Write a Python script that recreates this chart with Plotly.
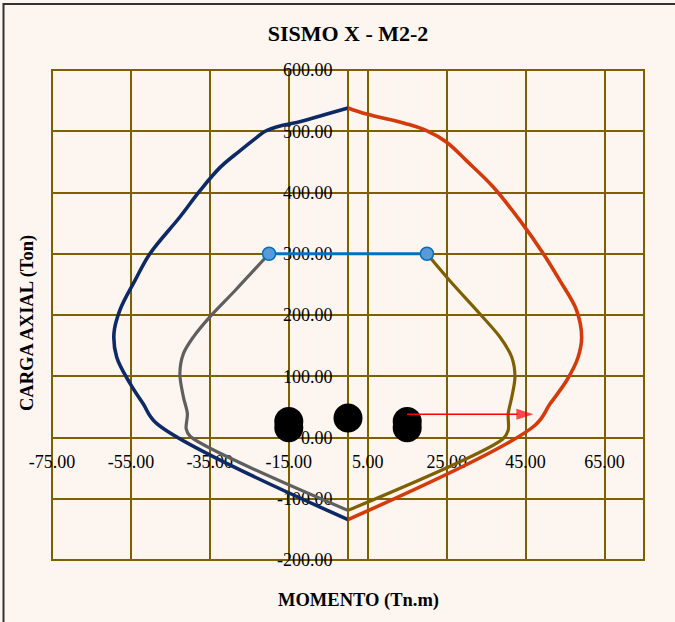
import plotly.graph_objects as go

# ---- data ----
navy_x = [0, -6, -12, -17, -21, -23.1, -27.4, -32.4, -37.5, -42.6, -50.2, -54, -57.8, -59.3, -58.6, -55.2, -51.9, -48.5, 0]
navy_y = [538, 527, 516, 509, 500, 490, 468, 441, 403, 360, 300, 256, 208, 170, 131, 88, 55, 23, -134]

red_x = [0, 4.7, 14.9, 19.9, 25, 30, 36.8, 43.6, 49.5, 53.7, 57.9, 59.2, 58.3, 55.4, 51.2, 47.4, 0]
red_y = [538, 528, 512, 501, 482, 452, 409, 354, 300, 256, 208, 164, 131, 93, 55, 20, -134]

gray_x = [-20, -28.6, -35, -39.2, -41.7, -42.6, -41.7, -40.7, -41, -40, 0]
gray_y = [300, 240, 197, 164, 137, 104, 66, 39, 14, 2, -119]

olive_x = [20, 25.8, 33.4, 38.5, 41.5, 42.3, 41.5, 40.6, 40.6, 39.3, 0]
olive_y = [300, 256, 202, 164, 131, 99, 66, 39, 12, -2, -119]

cap_x = [-20, 20]
cap_y = [300, 300]

dots_x = [-15, -15, 0, 15, 15]
dots_y = [26, 16, 32, 26, 16]

arrow_x = [15, 47]
arrow_y = [38, 38]

x_ticks = [-75, -55, -35, -15, 5, 25, 45, 65]
x_ticktext = ["-75.00", "-55.00", "-35.00", "-15.00", "5.00", "25.00", "45.00", "65.00"]
y_ticks = [-200, -100, 0, 100, 200, 300, 400, 500, 600]
y_ticktext = ["-200.00", "-100.00", "0.00", "100.00", "200.00", "300.00", "400.00", "500.00", "600.00"]

GRID = "#7F6000"
BG = "#FDF5F0"
FONT = "Liberation Serif"

fig = go.Figure()
fig.add_trace(go.Scatter(x=navy_x, y=navy_y, mode="lines",
                         line=dict(color="#0D2A66", width=3.6, shape="spline", smoothing=1.0)))
fig.add_trace(go.Scatter(x=red_x, y=red_y, mode="lines",
                         line=dict(color="#D43A0A", width=3.6, shape="spline", smoothing=1.0)))
fig.add_trace(go.Scatter(x=gray_x, y=gray_y, mode="lines",
                         line=dict(color="#5F5F5F", width=3.2, shape="spline", smoothing=0.9)))
fig.add_trace(go.Scatter(x=olive_x, y=olive_y, mode="lines",
                         line=dict(color="#7F6000", width=3.2, shape="spline", smoothing=0.9)))
fig.add_trace(go.Scatter(x=cap_x, y=cap_y, mode="lines+markers",
                         line=dict(color="#0070C0", width=3),
                         marker=dict(size=13, color="#5B9BD5", line=dict(color="#0070C0", width=1.5))))
fig.add_trace(go.Scatter(x=dots_x, y=dots_y, mode="markers",
                         marker=dict(size=29, color="black")))
fig.add_trace(go.Scatter(x=arrow_x, y=arrow_y, mode="lines+markers",
                         line=dict(color="#FF0000", width=1.5),
                         marker=dict(symbol=["circle", "arrow"], size=[0, 18], color="#FF0000",
                                     angleref="previous", line=dict(width=0))))

fig.update_layout(
    width=675, height=622,
    margin=dict(l=52, r=31, t=70, b=62),
    paper_bgcolor=BG, plot_bgcolor=BG,
    showlegend=False,
    title=dict(text="<b>SISMO X - M2-2</b>", x=0.5, xref="paper", xanchor="center",
               y=1 - 33 / 622, yref="container", yanchor="middle",
               font=dict(family=FONT, size=22, color="black")),
    font=dict(family=FONT, color="black"),
)
fig.update_xaxes(range=[-75, 75], tickvals=x_ticks, ticktext=x_ticktext,
                 showgrid=True, gridcolor=GRID, gridwidth=2, zeroline=False,
                 anchor="free", position=0.25, showline=False, ticks="",
                 ticklabelstandoff=11, tickfont=dict(family=FONT, size=18, color="black"),
                 layer="below traces")
fig.update_yaxes(range=[-200, 600], tickvals=y_ticks, ticktext=y_ticktext,
                 showgrid=True, gridcolor=GRID, gridwidth=2, zeroline=False,
                 anchor="free", position=0.5, showline=True, linecolor=GRID, linewidth=2,
                 ticks="", ticklabelstandoff=11,
                 tickfont=dict(family=FONT, size=18, color="black"),
                 layer="below traces")

# plot-area border and outer chart border
fig.add_shape(type="rect", xref="paper", yref="paper", x0=0, x1=1, y0=0, y1=1,
              line=dict(color=GRID, width=2), layer="below")
fig.add_shape(type="rect", xref="paper", yref="paper",
              x0=(3.5 - 52) / 592, x1=1.2, y0=-0.3, y1=1 + (70 - 4) / 490,
              line=dict(color="#333333", width=2), layer="below")

fig.add_annotation(text="<b>MOMENTO (Tn.m)</b>", xref="paper", yref="paper",
                   x=(358 - 52) / 592, y=(560 - 600) / 490, showarrow=False,
                   xanchor="center", yanchor="middle",
                   font=dict(family=FONT, size=18.5, color="black"))
fig.add_annotation(text="<b>CARGA AXIAL (Ton)</b>", xref="paper", yref="paper",
                   x=(27 - 52) / 592, y=(560 - 323) / 490, showarrow=False, textangle=-90,
                   xanchor="center", yanchor="middle",
                   font=dict(family=FONT, size=18.5, color="black"))

fig.write_html("out.html", config={"displayModeBar": False},
               post_script="document.body.style.margin='0';")
